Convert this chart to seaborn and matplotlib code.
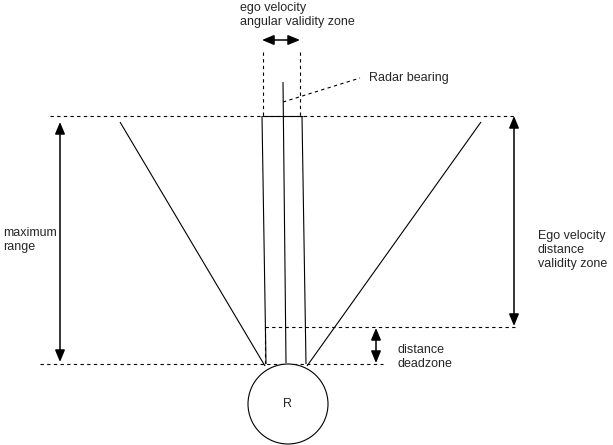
import matplotlib
matplotlib.use('Agg')
import matplotlib.pyplot as plt
import seaborn as sns
from matplotlib.patches import Circle, FancyArrowPatch

# diagram geometry, in reference pixel units (x right, y down)
fan_left = [(120, 122), (265, 366)]
fan_right = [(481, 122), (307, 366)]
beam_left = [(262, 116), (266, 364)]
beam_right = [(302, 116), (306, 364)]
beam_top = [(262, 116), (303, 116)]
bearing_line = [(283, 82), (286, 363)]
bearing_leader = [(283, 102), (360, 78)]

dashed_lines = [
    [(50, 116), (515, 116)],      # maximum range top
    [(40, 364), (383, 364)],      # radar origin level
    [(265, 327), (515, 327)],     # deadzone limit
    [(265, 327), (265, 364)],
    [(263, 52), (263, 116)],      # angular zone guides
    [(300, 52), (300, 116)],
]

arrows = [
    [(60, 122), (60, 362)],       # maximum range
    [(514, 116), (514, 326)],     # distance validity zone
    [(376, 328), (376, 363)],     # deadzone
    [(262, 40), (300, 40)],       # angular validity zone
]

radar_center = (288, 404)
radar_radius = 40

labels = [
    (240, 15, "ego velocity\nangular validity zone"),
    (369, 78, "Radar bearing"),
    (3, 240, "maximum\nrange"),
    (538, 250, "Ego velocity\ndistance\nvalidity zone"),
    (397, 357, "distance\ndeadzone"),
]

sns.set_theme(style="white")
plt.rcParams['font.family'] = ['Liberation Sans', 'DejaVu Sans']

fig = plt.figure(figsize=(6.13, 4.45), dpi=100)
ax = fig.add_axes([0, 0, 1, 1])
ax.set_xlim(0, 613)
ax.set_ylim(445, 0)
ax.axis('off')

lw = 0.8
for seg in [fan_left, fan_right, beam_left, beam_right, beam_top, bearing_line]:
    xs, ys = zip(*seg)
    ax.plot(xs, ys, color='black', lw=lw, solid_capstyle='butt')

for seg in dashed_lines + [bearing_leader]:
    xs, ys = zip(*seg)
    ax.plot(xs, ys, color='black', lw=lw, linestyle=(0, (3, 3)))

for start, end in arrows:
    ax.add_patch(FancyArrowPatch(start, end, arrowstyle='<|-|>,head_length=0.6,head_width=0.25',
                                 mutation_scale=12, color='black', lw=1.1,
                                 shrinkA=0, shrinkB=0))

ax.add_patch(Circle(radar_center, radar_radius, facecolor='white',
                    edgecolor='black', lw=lw, zorder=3))
ax.text(radar_center[0], radar_center[1], "R", ha='center', va='center',
        fontsize=9, zorder=4)

for x, y, txt in labels:
    ax.text(x, y, txt, ha='left', va='center', fontsize=9, linespacing=1.25)

plt.savefig("out.png", dpi=100)
plt.close()
